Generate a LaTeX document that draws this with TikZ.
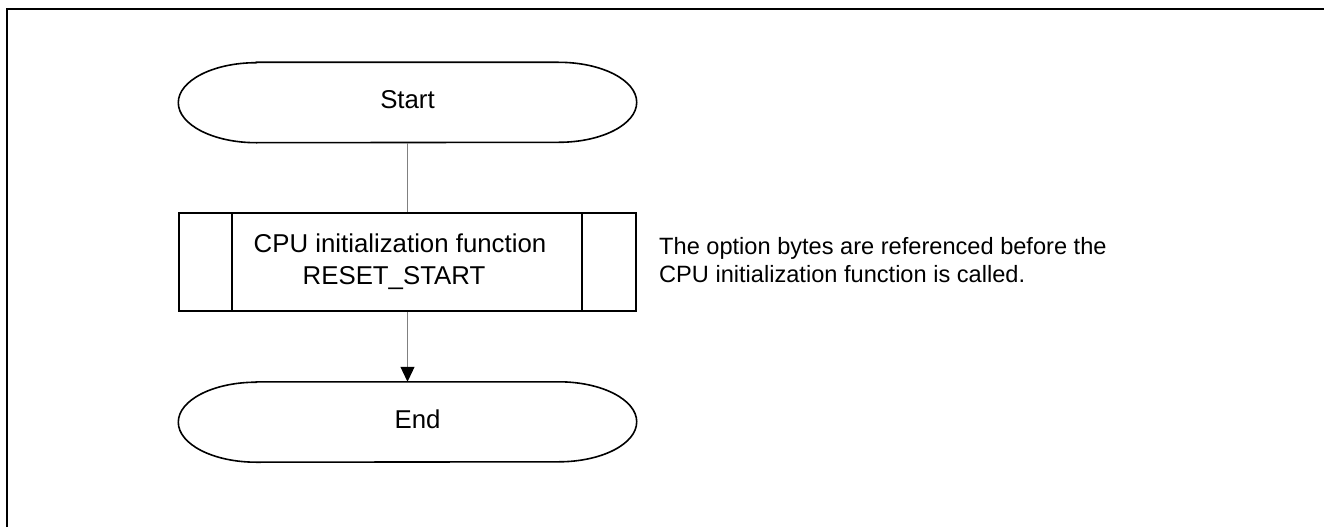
\documentclass[tikz,border=0pt]{standalone}
\usepackage{fontspec}
\setmainfont{Liberation Sans}
\usetikzlibrary{arrows.meta}
\definecolor{linegray}{RGB}{128,128,128}
\newcommand\drawterminal[1]{%
  \draw[shapeline] ([xshift=78pt]#1.north west) -- ([xshift=-78pt]#1.north east)
    arc[start angle=90, end angle=-90, x radius=78pt, y radius=40pt]
    -- ([xshift=78pt]#1.south west)
    arc[start angle=270, end angle=90, x radius=78pt, y radius=40pt] -- cycle;}
\begin{document}
\begin{tikzpicture}[x=1pt,y=-1pt,
  shapeline/.style={draw=black, line width=1.6pt},
  term/.style={rectangle, draw=none, minimum width=458pt, minimum height=80pt,
    inner sep=0pt, text height=18pt, text depth=6pt,
    font=\fontsize{25.8}{30}\selectfont},
  procbox/.style={rectangle, shapeline, minimum width=457pt, minimum height=98pt,
    inner sep=0pt, align=center, font=\fontsize{25.8}{32}\selectfont},
  notetext/.style={inner sep=0pt, align=left, anchor=west,
    font=\fontsize{23.6}{28}\selectfont},
  conn/.style={draw=linegray, line width=1pt},
  frameline/.style={draw=black, line width=2.6pt}]
\useasboundingbox (0,0) rectangle (1324,527);
% frame
\coordinate (fbl) at (7,527);
\coordinate (ftl) at (7,9);
\coordinate (ftr) at (1324,9);
\draw[frameline] (fbl) -- (ftl) -- (ftr);
% nodes
\node[term] (start) at (407.5,102.5) {Start};
\drawterminal{start}
\node[procbox] (cpu) at (407.5,262) {CPU initialization function\hspace*{15pt}\\RESET\_START\hspace*{27pt}};
\draw[shapeline] ([xshift=54pt]cpu.north west) -- ([xshift=54pt]cpu.south west);
\draw[shapeline] ([xshift=-55pt]cpu.north east) -- ([xshift=-55pt]cpu.south east);
\node[term] (endn) at (407.5,422) {\hspace*{20pt}End};
\drawterminal{endn}
\node[notetext] (note) at (659,260.5) {The option bytes are referenced before the\\CPU initialization function is called.};
% connectors
\draw[conn] (start) -- (cpu);
\draw[conn, -{Triangle[length=15pt,width=14pt,black]}] (cpu) -- (endn);
\end{tikzpicture}
\end{document}
